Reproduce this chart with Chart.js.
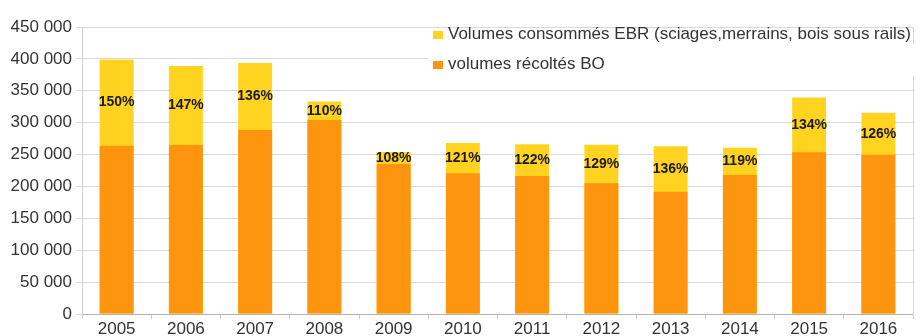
<!DOCTYPE html>
<html lang="fr">
<head>
  <meta charset="UTF-8" />
  <title>Volumes EBR / BO</title>
  <script src="https://cdn.jsdelivr.net/npm/chart.js"></script>
  <style>
    html, body {
      margin: 0;
      padding: 0;
      background: #fff;
    }
    #wrap {
      width: 924px;
      height: 336px;
    }
  </style>
</head>
<body>
  <div id="wrap"><canvas id="chart" width="924" height="336"></canvas></div>

  <script>
    const years = ["2005", "2006", "2007", "2008", "2009", "2010", "2011", "2012", "2013", "2014", "2015", "2016"];
    const volumesEBR = [399000, 389000, 393500, 333000, 254000, 268000, 266000, 265500, 263000, 260500, 339500, 315500];
    const volumesBO = [264000, 265000, 288500, 304000, 235000, 220500, 216500, 205000, 191500, 218000, 253500, 249500];
    const ratios = ["150%", "147%", "136%", "110%", "108%", "121%", "122%", "129%", "136%", "119%", "134%", "126%"];
    const legendLabels = ["Volumes consommés EBR (sciages,merrains, bois sous rails)", "volumes récoltés BO"];

    const yellow = "#ffd320";
    const orange = "#ff950e";
    const font = "'Liberation Sans', Arial, sans-serif";

    // percentage labels, placed in the middle of the visible yellow part
    const ratioLabels = {
      id: "ratioLabels",
      afterDatasetsDraw(chart) {
        const ctx = chart.ctx;
        const y = chart.scales.y;
        const meta = chart.getDatasetMeta(0);
        ctx.save();
        ctx.font = "bold 14px " + font;
        ctx.fillStyle = "#1a1a1a";
        ctx.textAlign = "center";
        ctx.textBaseline = "middle";
        meta.data.forEach((bar, i) => {
          const yy = (y.getPixelForValue(volumesEBR[i]) + y.getPixelForValue(volumesBO[i])) / 2;
          ctx.fillText(ratios[i], bar.x, yy);
        });
        ctx.restore();
      }
    };

    // legend box in the top right, over the plot
    const boxLegend = {
      id: "boxLegend",
      afterDraw(chart) {
        const ctx = chart.ctx;
        const colors = [yellow, orange];
        ctx.save();
        ctx.fillStyle = "#fff";
        ctx.fillRect(428, 44, 496, 32);
        ctx.font = "17px " + font;
        ctx.textBaseline = "middle";
        legendLabels.forEach((txt, i) => {
          const cy = 34 + i * 30;
          ctx.fillStyle = colors[i];
          ctx.fillRect(433, cy - 3, 10, 8);
          ctx.fillStyle = "#333";
          ctx.fillText(txt, 448, cy);
        });
        ctx.restore();
      }
    };

    new Chart(document.getElementById("chart"), {
      type: "bar",
      data: {
        labels: years,
        datasets: [
          {
            label: legendLabels[1],
            data: volumesBO,
            backgroundColor: orange,
            grouped: false,
            order: 1,
            categoryPercentage: 1,
            barPercentage: 0.49
          },
          {
            label: legendLabels[0],
            data: volumesEBR,
            backgroundColor: yellow,
            grouped: false,
            order: 2,
            categoryPercentage: 1,
            barPercentage: 0.49
          }
        ]
      },
      options: {
        responsive: false,
        animation: false,
        layout: { padding: { top: 27, right: 11, bottom: 0, left: 0 } },
        plugins: {
          legend: { display: false },
          tooltip: { enabled: false }
        },
        scales: {
          x: {
            grid: {
              drawOnChartArea: false,
              drawTicks: true,
              tickLength: 5,
              color: "#cfcfcf"
            },
            border: { color: "#b3b3b3" },
            ticks: {
              color: "#333",
              padding: 0,
              font: { family: font, size: 17 }
            },
            afterFit(scale) { scale.height = 22; }
          },
          y: {
            min: 0,
            max: 450000,
            grid: {
              color: "#d9d9d9",
              tickLength: 6
            },
            border: { color: "#cfcfcf" },
            ticks: {
              stepSize: 50000,
              color: "#333",
              padding: 4,
              font: { family: font, size: 17 },
              callback: v => v.toString().replace(/\B(?=(\d{3})+(?!\d))/g, " ")
            },
            afterFit(scale) { scale.width = 82; }
          },
          y2: {
            position: "right",
            display: true,
            min: 0,
            max: 450000,
            grid: { drawOnChartArea: false, drawTicks: false },
            border: { color: "#d9d9d9" },
            ticks: { display: false },
            afterFit(scale) { scale.width = 0; }
          }
        }
      },
      plugins: [ratioLabels, boxLegend]
    });
  </script>
</body>
</html>
